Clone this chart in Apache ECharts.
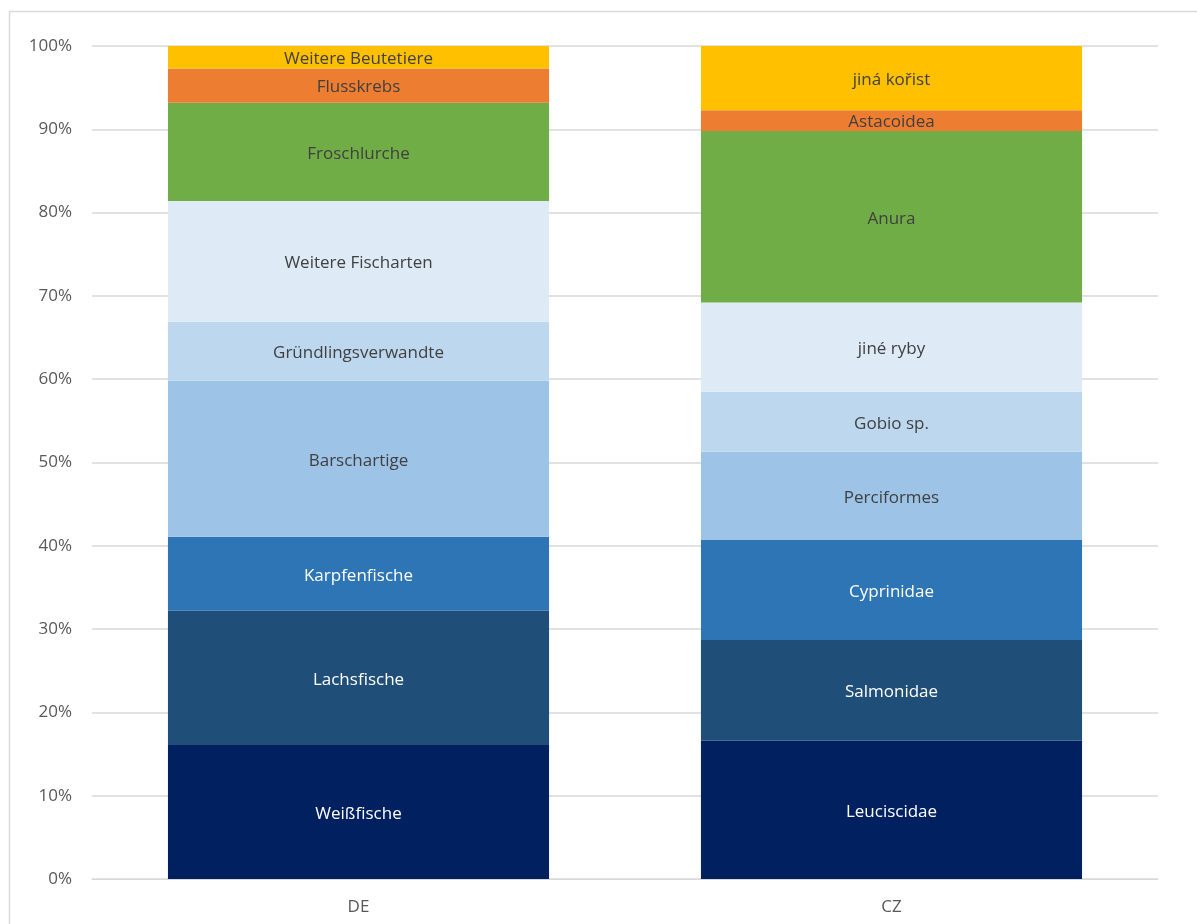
<!DOCTYPE html>
<html>
<head>
<meta charset="utf-8">
<script src="https://cdn.jsdelivr.net/npm/echarts@6/dist/echarts.min.js"></script>
<style>html,body{margin:0;padding:0;background:#fff}#c{width:1197px;height:924px}</style>
</head>
<body>
<div id="c"></div>
<script>
const categories = ['DE', 'CZ'];
const labelsDE = ['Weißfische', 'Lachsfische', 'Karpfenfische', 'Barschartige', 'Gründlingsverwandte', 'Weitere Fischarten', 'Froschlurche', 'Flusskrebs', 'Weitere Beutetiere'];
const labelsCZ = ['Leuciscidae', 'Salmonidae', 'Cyprinidae', 'Perciformes', 'Gobio sp.', 'jiné ryby', 'Anura', 'Astacoidea', 'jiná kořist'];
const valuesDE = [16.1, 16.1, 8.9, 18.7, 7.1, 14.5, 11.8, 4.1, 2.7];
const valuesCZ = [16.6, 12.1, 12.0, 10.6, 7.2, 10.7, 20.6, 2.5, 7.7];
const tickLabels = ['0%', '10%', '20%', '30%', '40%', '50%', '60%', '70%', '80%', '90%', '100%'];
const colors = ['#002060', '#1f4e79', '#2e75b6', '#9dc3e6', '#bdd7ee', '#deebf7', '#70ad47', '#ed7d31', '#ffc000'];
const labelColors = ['#ffffff', '#ffffff', '#ffffff', '#404040', '#404040', '#404040', '#404040', '#404040', '#404040'];

const chart = echarts.init(document.getElementById('c'));
const series = valuesDE.map((v, i) => ({
  type: 'bar',
  stack: 'total',
  barWidth: '71.5%',
  data: [
    { value: v, name: labelsDE[i] },
    { value: valuesCZ[i], name: labelsCZ[i] }
  ],
  itemStyle: { color: colors[i] },
  label: {
    show: true,
    position: 'inside',
    offset: [0, 2],
    formatter: p => p.data.name,
    color: labelColors[i],
    fontFamily: 'Open Sans',
    fontSize: 17
  }
}));

chart.setOption({
  animation: false,
  graphic: [{
    type: 'rect',
    shape: { x: 9.5, y: 11.5, width: 1200, height: 930 },
    style: { fill: 'none', stroke: '#d9d9d9', lineWidth: 1.5 },
    silent: true
  }],
  grid: { left: 92, right: 39, top: 46, bottom: 45 },
  xAxis: {
    type: 'category',
    data: categories,
    axisLine: { show: true, lineStyle: { color: '#d9d9d9', width: 1 } },
    axisTick: { show: false },
    axisLabel: { color: '#595959', fontFamily: 'Open Sans', fontSize: 17, margin: 20 }
  },
  yAxis: {
    type: 'value',
    min: 0,
    max: 100,
    interval: 10,
    axisLine: { show: false },
    axisTick: { show: false },
    splitLine: { lineStyle: { color: '#d9d9d9', width: 1.5 } },
    axisLabel: {
      color: '#595959', fontFamily: 'Open Sans', fontSize: 17, margin: 20,
      formatter: v => tickLabels[Math.round(v / 10)]
    }
  },
  series: series
});
</script>
</body>
</html>
